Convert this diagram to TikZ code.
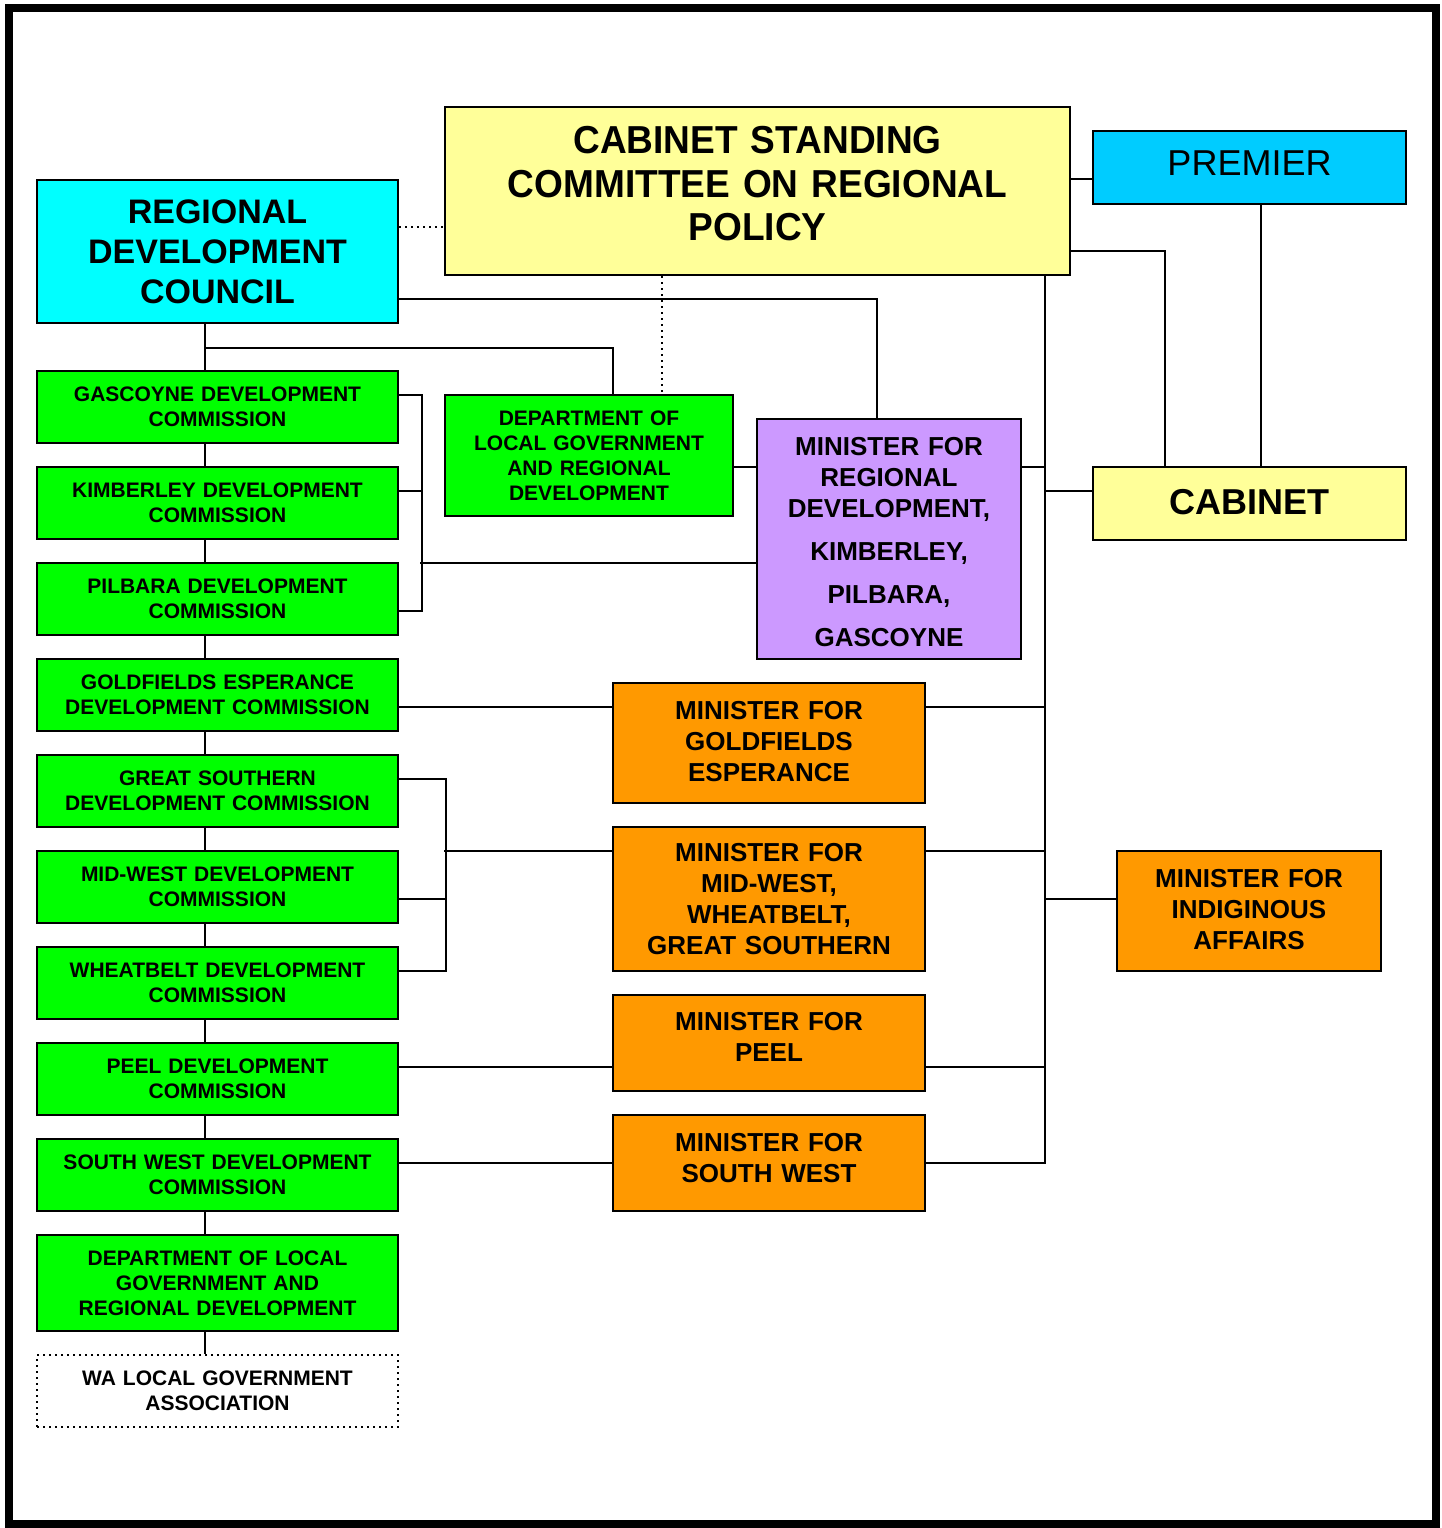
\documentclass[tikz,border=0pt]{standalone}
\usepackage{fontspec}
\setmainfont{Liberation Sans}
\usetikzlibrary{backgrounds}
\definecolor{councilcyan}{HTML}{00FFFF}
\definecolor{premierblue}{HTML}{00CCFF}
\definecolor{cabinetyellow}{HTML}{FFFF99}
\definecolor{commgreen}{HTML}{00FF00}
\definecolor{ministerorange}{HTML}{FF9900}
\definecolor{regionpurple}{HTML}{CC99FF}

\begin{document}
\begin{tikzpicture}[x=0.5pt,y=-0.5pt,
    orgbox/.style={draw=black,line width=1pt,align=center,inner sep=0pt},
    commbox/.style={orgbox,fill=commgreen,minimum width=180.5pt,minimum height=36pt,text width=178pt,
      font=\fontsize{10.5}{12.5}\selectfont\bfseries},
    minbox/.style={orgbox,fill=ministerorange,minimum width=156pt,text width=150pt,
      font=\fontsize{13}{15.5}\selectfont\bfseries},
    link/.style={line width=1pt}]
              \useasboundingbox (0,0) rectangle (1442,1528);
              \path[draw,line width=4pt] (9,8) rectangle (1436,1524);
              % top row
              \node[orgbox,fill=councilcyan,minimum width=180.5pt,minimum height=71.5pt,text width=178pt,
                font=\fontsize{17}{20}\selectfont\bfseries] (rdc) at (217.5,251.5) {REGIONAL\\DEVELOPMENT\\COUNCIL};
              \node[orgbox,fill=cabinetyellow,minimum width=312.5pt,minimum height=84pt,text width=305pt,text depth=51pt,
                font=\fontsize{19.5}{21.75}\selectfont\bfseries\addfontfeature{FakeStretch=0.95}] (csc) at (757.5,191)
                {CABINET STANDING\\COMMITTEE ON REGIONAL\\POLICY};
              \node[orgbox,fill=premierblue,minimum width=156.5pt,minimum height=36.5pt,text width=150pt,text depth=4pt,
                font=\fontsize{18}{21}\selectfont] (prem) at (1249.5,167.5) {PREMIER};
              \node[orgbox,fill=cabinetyellow,minimum width=156.5pt,minimum height=36.5pt,text width=150pt,text depth=2pt,
                font=\fontsize{18}{21}\selectfont\bfseries] (cab) at (1249.5,503.5) {CABINET};
              % commissions
              \node[commbox] (gas) at (217.5,407) {GASCOYNE DEVELOPMENT\\COMMISSION};
              \node[commbox] (kim) at (217.5,503) {KIMBERLEY DEVELOPMENT\\COMMISSION};
              \node[commbox] (pil) at (217.5,599) {PILBARA DEVELOPMENT\\COMMISSION};
              \node[commbox] (gol) at (217.5,695) {GOLDFIELDS ESPERANCE\\DEVELOPMENT COMMISSION};
              \node[commbox] (gsd) at (217.5,791) {GREAT SOUTHERN\\DEVELOPMENT COMMISSION};
              \node[commbox] (mwd) at (217.5,887) {MID-WEST DEVELOPMENT\\COMMISSION};
              \node[commbox] (wbd) at (217.5,983) {WHEATBELT DEVELOPMENT\\COMMISSION};
              \node[commbox] (pee) at (217.5,1079) {PEEL DEVELOPMENT\\COMMISSION};
              \node[commbox] (swd) at (217.5,1175) {SOUTH WEST DEVELOPMENT\\COMMISSION};
              \node[commbox,minimum height=48pt] (dlr) at (217.5,1283) {DEPARTMENT OF LOCAL\\GOVERNMENT AND\\REGIONAL DEVELOPMENT};
              \node[commbox,fill=white,dotted] (wal) at (217.5,1391) {WA LOCAL GOVERNMENT\\ASSOCIATION};
              \node[commbox,minimum width=144pt,minimum height=60.5pt,text width=140pt] (dlg) at (589,455.5) {DEPARTMENT OF\\LOCAL GOVERNMENT\\AND REGIONAL\\DEVELOPMENT};
              % ministers
              \node[minbox,fill=regionpurple,minimum width=132pt,text width=128pt,minimum height=120pt,text height=12pt] (mrd) at (889,539)
                {MINISTER FOR\\REGIONAL\\DEVELOPMENT,\\[6pt]KIMBERLEY,\\[6pt]PILBARA,\\[6pt]GASCOYNE};
              \node[minbox,minimum height=60pt,text depth=33pt] (mge) at (769,743) {MINISTER FOR\\GOLDFIELDS\\ESPERANCE};
              \node[minbox,minimum height=72pt] (mmw) at (769,899) {MINISTER FOR\\MID-WEST,\\WHEATBELT,\\GREAT SOUTHERN};
              \node[minbox,minimum height=48pt,text depth=21.5pt] (mpe) at (769,1043) {MINISTER FOR\\ PEEL};
              \node[minbox,minimum height=48pt,text depth=21pt] (msw) at (769,1163) {MINISTER FOR\\SOUTH WEST};
              \node[minbox,minimum width=132pt,text width=128pt,minimum height=60pt,text depth=33pt] (mia) at (1249,911) {MINISTER FOR\\INDIGINOUS\\AFFAIRS};
              % links
              \begin{scope}[on background layer]
              \path[draw,link,dotted] ([yshift=12.25pt]rdc.east) -- ([yshift=-18pt]csc.west);
              \path[draw,link,dotted] ([xshift=-47.75pt]csc.south) -- ([xshift=36.5pt]dlg.north);
              \path[draw,link] ([yshift=-23.75pt]rdc.east) -| ([xshift=-6pt]mrd.north);
              \path[draw,link] ([xshift=-6.25pt]rdc.south) -- ([xshift=-6.25pt]wal.north);
              \path[draw,link] ([xshift=-6.25pt,yshift=-12pt]rdc.south) -| ([xshift=12pt]dlg.north);
              \path[draw,link] ([yshift=6pt]gas.east) -- ++(23,0) |- ([yshift=-6pt]pil.east);
              \path[draw,link] ([yshift=6pt]kim.east) -- ++(23,0);
              \path[draw,link] ([yshift=-12pt]mrd.west) -- ++(-336,0);
              \path[draw,link] ([yshift=-5.75pt]dlg.east) -- ([yshift=36pt]mrd.west);
              \path[draw,link] ([yshift=-6pt]gol.east) -- ([yshift=18pt]mge.west);
              \path[draw,link] ([yshift=6pt]gsd.east) -- ++(47,0) |- ([yshift=6pt]wbd.east);
              \path[draw,link] ([yshift=-6pt]mwd.east) -- ++(47,0);
              \path[draw,link] ([yshift=24pt]mmw.west) -- ++(-168,0);
              \path[draw,link] ([yshift=6pt]pee.east) -- ([yshift=-12pt]mpe.west);
              \path[draw,link] ([yshift=6pt]swd.east) -- (msw.west);
              \path[draw,link] ([xshift=143.75pt]csc.south) |- (msw.east);
              \path[draw,link] ([yshift=36pt]mrd.east) -- ++(24,0);
              \path[draw,link] ([yshift=6.25pt]cab.west) -- ++(-48,0);
              \path[draw,link] ([yshift=18pt]mge.east) -- ++(120,0);
              \path[draw,link] ([yshift=24pt]mmw.east) -- ++(120,0);
              \path[draw,link] ([yshift=6pt]mia.west) -- ++(-72,0);
              \path[draw,link] ([yshift=-12pt]mpe.east) -- ++(120,0);
              \path[draw,link] ([yshift=6pt]csc.east) -- ([yshift=-5.75pt]prem.west);
              \path[draw,link] ([yshift=-30pt]csc.east) -| ([xshift=-42.25pt]cab.north);
              \path[draw,link] ([xshift=5.75pt]prem.south) -- ([xshift=5.75pt]cab.north);
              \end{scope}
            \end{tikzpicture}
\end{document}
